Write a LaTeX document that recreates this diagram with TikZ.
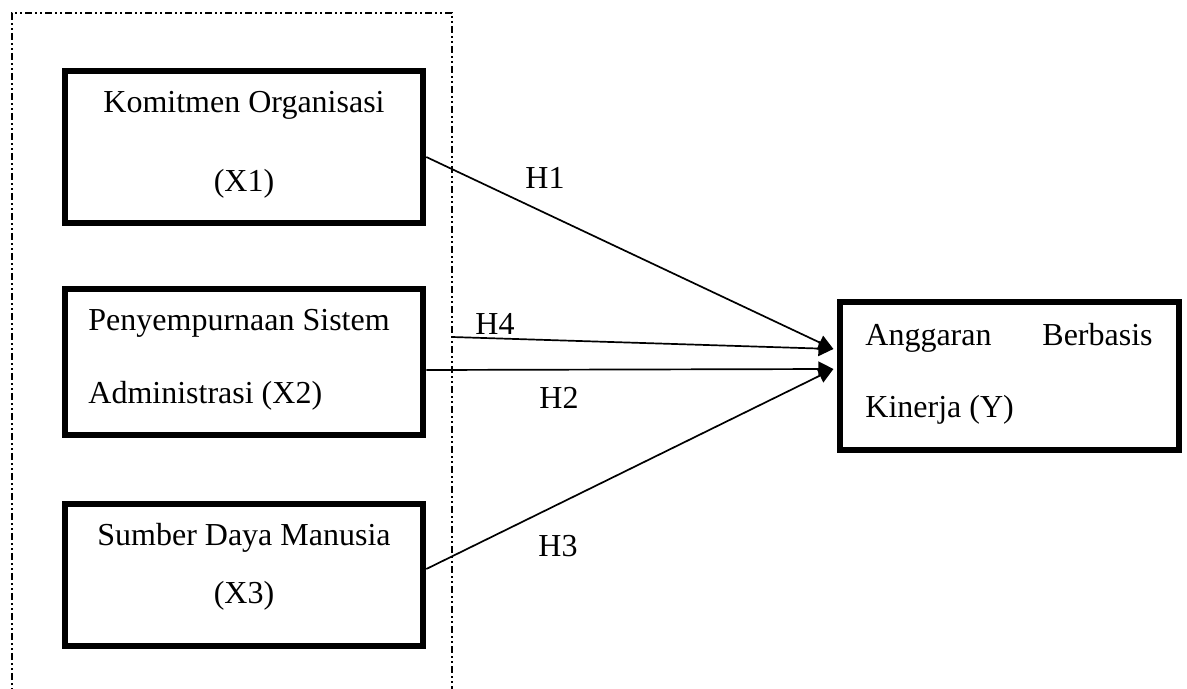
\documentclass[tikz,border=0pt]{standalone}
\usepackage{fontspec}
\setmainfont{Liberation Serif}
\usetikzlibrary{arrows.meta}
\begin{document}
\begin{tikzpicture}[x=0.5pt,y=-0.5pt,
  varbox/.style={draw=black,line width=3.3pt,rectangle,inner sep=0pt},
  txt/.style={inner sep=0pt,anchor=base,font=\fontsize{16pt}{19pt}\selectfont},
  txtw/.style={txt,anchor=base west},
  txte/.style={txt,anchor=base east},
  hyp/.style={draw=black,line width=0.85pt,-{Triangle[length=7.5pt,width=7.5pt]}},
  framestyle/.style={draw=black,line width=1.2pt,
    dash pattern=on 3.5pt off 1.5pt on 1pt off 1.5pt on 1pt off 1.5pt}]
\useasboundingbox (0,0) rectangle (1187,689);
\clip (0,0) rectangle (1187,689);
\fill[white] (0,0) rectangle (1187,689);
% dashed frame
\coordinate (fa) at (12,13);
\coordinate (fb) at (452,13);
\coordinate (fc) at (452,720);
\coordinate (fd) at (12,720);
\draw[framestyle] (fd) -- (fa) -- (fb) -- (fc);
% boxes
\node[varbox,minimum width=179pt,minimum height=76pt] (b1) at (244,147) {};
\node[varbox,minimum width=179pt,minimum height=73pt] (b2) at (244,362) {};
\node[varbox,minimum width=179pt,minimum height=71pt] (b3) at (244,575) {};
\node[varbox,minimum width=169.5pt,minimum height=74pt] (by) at (1009.5,376) {};
% texts
\node[txt] (t1a) at (244,113) {Komitmen Organisasi};
\node[txt] (t1b) at (244,192) {(X1)};
\node[txtw] (t2a) at (88,330) {Penyempurnaan Sistem};
\node[txtw] (t2b) at (88,403) {Administrasi (X2)};
\node[txt] (t3a) at (244,545) {Sumber Daya Manusia};
\node[txt] (t3b) at (244,603) {(X3)};
\node[txtw] (tya) at (865,345) {Anggaran};
\node[txte] (tyb) at (1153,345) {Berbasis};
\node[txtw] (tyc) at (865,417) {Kinerja (Y)};
% hypothesis labels
\node[txt] (h1) at (545,189) {H1};
\node[txt] (h4) at (495,335) {H4};
\node[txt] (h2) at (559,408) {H2};
\node[txt] (h3) at (558,556) {H3};
% connectors
\coordinate (h4s) at (452,337);
\draw[hyp] ([yshift=-5pt]b1.east) -- ([xshift=-1.65pt,yshift=13.5pt]by.west);
\draw[hyp] (h4s) -- ([xshift=-1.65pt,yshift=13.5pt]by.west);
\draw[hyp] ([yshift=-4pt]b2.east) -- ([xshift=-1.65pt,yshift=3.5pt]by.west);
\draw[hyp] ([yshift=3pt]b3.east) -- ([xshift=-1.65pt,yshift=3.5pt]by.west);
\end{tikzpicture}
\end{document}
